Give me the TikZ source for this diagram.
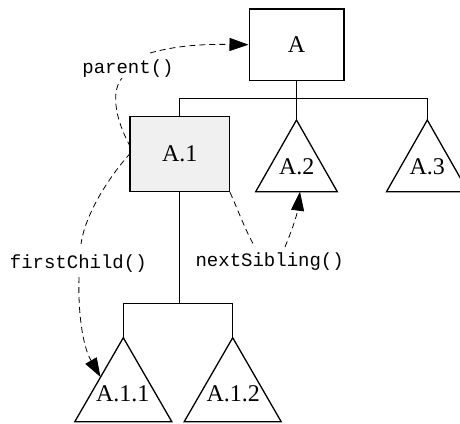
\documentclass[tikz,border=0pt]{standalone}
\usepackage{fontspec}
\setmainfont{Liberation Serif}
\setmonofont{Liberation Mono}
\usetikzlibrary{arrows.meta}
\tikzset{
  treebox/.style={draw, line width=1.3pt, inner sep=0pt, font=\fontsize{24}{28}\selectfont},
  treetri/.style={draw, line width=1.3pt, line join=miter},
  trilabel/.style={font=\fontsize{24}{28}\selectfont, inner sep=0pt},
  branch/.style={line width=0.9pt},
  nav/.style={dashed, dash pattern=on 6pt off 4pt, line width=0.8pt},
  navtip/.style={-{Triangle[length=19pt,width=13pt]}},
  call/.style={font=\ttfamily\fontsize{19}{22}\selectfont, inner sep=0pt, anchor=base},
}
\begin{document}
\begin{tikzpicture}[x=1pt,y=-1pt]
  \useasboundingbox (0,0) rectangle (460,423);

  % inner nodes
  \node[treebox, minimum width=94.7pt, minimum height=71.3pt] (A) at (296.5,44.7) {A};
  \node[treebox, fill={rgb,255:red,240;green,240;blue,240}, minimum width=99.3pt, minimum height=75.4pt] (a1) at (179.7,154) {A.1};

  % subtree apexes
  \coordinate (a2top) at (296.5,120);
  \coordinate (a3top) at (427.3,120);
  \coordinate (a11top) at (123.3,337.7);
  \coordinate (a12top) at (232.7,337.7);

  % subtrees as triangles
  \draw[treetri] (a2top) -- ++(-40.8,71.7) -- ++(81.6,0) -- cycle;
  \draw[treetri] (a3top) -- ++(-40.8,71.7) -- ++(81.6,0) -- cycle;
  \draw[treetri] (a11top) -- ++(-48.5,84) -- ++(97,0) -- cycle;
  \draw[treetri] (a12top) -- ++(-48.5,84) -- ++(97,0) -- cycle;
  \node[trilabel] (a2) at (296.7,167) {A.2};
  \node[trilabel] (a3) at (427.2,167) {A.3};
  \node[trilabel] (a11) at (122.7,394) {A.1.1};
  \node[trilabel] (a12) at (233.3,394) {A.1.2};

  % tree branches
  \coordinate (bus) at (296.5,98.7);
  \coordinate (bus2) at (179.7,303.3);
  \draw[branch] (A.south) -- (a2top);
  \draw[branch] (a1.north) |- (bus) -| (a3top);
  \draw[branch] (a1.south) -- (bus2);
  \draw[branch] (a11top) |- (bus2) -| (a12top);

  % navigation calls
  \node[call] (lparent) at (128,73.3) {parent()};
  \node[call] (lfirst) at (78.3,268.3) {firstChild()};
  \node[call] (lnext) at (269.7,266.7) {nextSibling()};

  \coordinate (pstart) at (130.5,147);
  \coordinate (pmid) at (122,78);
  \coordinate (pres) at (150,53);
  \draw[nav] (pstart) .. controls (113,115) and (112,90) .. (pmid);
  \draw[nav, navtip] (pres) .. controls (175,46) and (200,44) .. (A.west);

  \coordinate (fstart) at (130.5,153);
  \coordinate (fmid) at (81,244);
  \coordinate (fres) at (79,277);
  \coordinate (ftip) at (100.5,377);
  \draw[nav] (fstart) .. controls (108,178) and (85,215) .. (fmid);
  \draw[nav, navtip] (fres) .. controls (78,310) and (82,345) .. (ftip);

  \coordinate (nmid) at (255,247);
  \coordinate (nres) at (285,247);
  \coordinate (ntip) at (300,191.7);
  \draw[nav] (a1.south east) .. controls (238,210) and (246,232) .. (nmid);
  \draw[nav, navtip] (nres) .. controls (292,230) and (297,215) .. (ntip);
\end{tikzpicture}
\end{document}
